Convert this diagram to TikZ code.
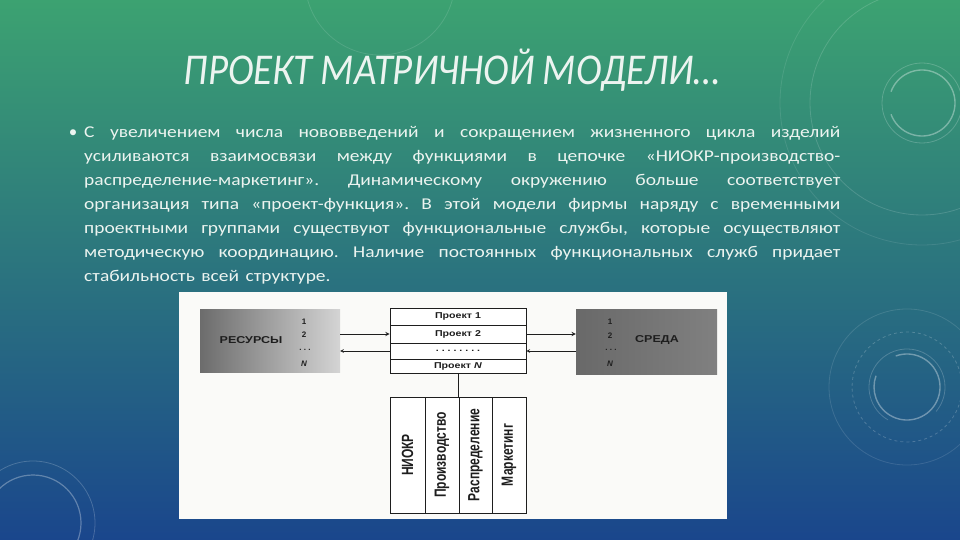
\documentclass[tikz,border=0pt]{standalone}
\usepackage{fontspec}
\setmainfont{Carlito}
\newfontfamily\diafont{Liberation Sans}
\usepackage{graphicx}
\usetikzlibrary{positioning}
\frenchspacing

\definecolor{bgtop}{RGB}{60,162,113}
\definecolor{bgmid}{RGB}{33,120,128}
\definecolor{bgbot}{RGB}{26,70,140}
\definecolor{slidetext}{RGB}{236,244,240}
\definecolor{ink}{RGB}{30,30,30}
\definecolor{paper}{RGB}{250,250,248}

% justified line and stretched scan text
\newcommand{\jline}[1]{\makebox[\linewidth][s]{\spaceskip=0pt \xspaceskip=0pt #1}}
\newcommand{\dwide}[1]{\scalebox{1.25}[1]{#1}}

\tikzset{
  deco/.style={draw=white, draw opacity=0.2, line width=0.8pt},
  prow/.style={draw=ink, line width=0.8pt, fill=white, minimum width=136pt, inner sep=0pt,
    font=\diafont\bfseries\fontsize{8.5}{9}\selectfont, text=ink},
  fcol/.style={draw=ink, line width=0.8pt, fill=white, rotate=90, minimum width=116pt, inner sep=0pt,
    font=\diafont\bfseries\fontsize{12}{12}\selectfont, text=ink},
  numlbl/.style={font=\diafont\bfseries\fontsize{8}{8}\selectfont, text=ink, inner sep=0pt},
  boxname/.style={font=\diafont\bfseries\fontsize{10}{10}\selectfont, text=ink, inner sep=0pt},
}

\begin{document}
\begin{tikzpicture}[x=1pt, y=-1pt, >=stealth]
  \useasboundingbox (0,0) rectangle (960,540);

  % 1. background of the slide
  \shade[top color=bgtop, middle color=bgmid, bottom color=bgbot] (0,0) rectangle (960,540);

  % rings
  \draw[deco, line width=1.4pt, draw opacity=0.35] (922,103) ++(200:33) arc (200:520:33);
  \draw[deco] (922,103) circle (40);
  \draw[deco, draw opacity=0.15] (922,103) circle (112);
  \draw[deco, draw opacity=0.1] (922,103) circle (142);
  \draw[deco, line width=1.4pt, draw opacity=0.35] (907,387) ++(250:33) arc (250:560:33);
  \draw[deco] (907,387) ++(120:38) arc (120:400:38);
  \draw[deco, dashed] (907,387) circle (55);
  \draw[deco, draw opacity=0.12] (907,387) circle (78);
  \draw[deco, line width=1.2pt, draw opacity=0.3] (33,523) circle (48);
  \draw[deco] (33,523) circle (62);
  \draw[deco, draw opacity=0.12] (380,-20) circle (75);

  % 2. title and text
  \node[anchor=base, inner sep=0pt, text=slidetext] (title) at (452,85)
    {\resizebox{536pt}{\height}{\fontsize{44}{44}\selectfont\itshape ПРОЕКТ МАТРИЧНОЙ МОДЕЛИ…}};

  \node[anchor=base, inner sep=0pt, text=slidetext, font=\fontsize{17}{24}\selectfont] (bullet) at (73,138) {•};
  \node[anchor=base west, inner sep=0pt, xscale=1.18, text width=640.7pt, align=left,
    text=slidetext, font=\fontsize{16.5}{24}\selectfont] (body) at (84,138) {%
    \jline{С увеличением числа нововведений и сокращением жизненного цикла изделий}\\
    \jline{усиливаются взаимосвязи между функциями в цепочке «НИОКР-производство-}\\
    \jline{распределение-маркетинг». Динамическому окружению больше соответствует}\\
    \jline{организация типа «проект-функция». В этой модели фирмы наряду с временными}\\
    \jline{проектными группами существуют функциональные службы, которые осуществляют}\\
    \jline{методическую координацию. Наличие постоянных функциональных служб придает}\\
    стабильность всей структуре.};

  % 3. the scanned scheme
  \fill[paper] (179,292) rectangle (727,519);

  \node[minimum width=140pt, minimum height=63pt, inner sep=0pt,
    left color={rgb,255:red,108;green,108;blue,108}, middle color={rgb,255:red,130;green,130;blue,130},
    right color={rgb,255:red,212;green,212;blue,212}] (res) at (270,340.5) {};
  \node[boxname] (resname) at (251,340) {\dwide{РЕСУРСЫ}};
  \node[numlbl] (r1) at (304,322) {1};
  \node[numlbl] (r2) at (304,335) {2};
  \node[numlbl] (r3) at (305,350) {. . .};
  \node[numlbl] (r4) at (304,364) {\textit{N}};

  \node[minimum width=141pt, minimum height=65pt, inner sep=0pt,
    left color={rgb,255:red,105;green,105;blue,105}, middle color={rgb,255:red,200;green,200;blue,200},
    right color={rgb,255:red,128;green,128;blue,128}] (env) at (646.5,341.5) {};
  \node[boxname] (envname) at (657,340) {\dwide{СРЕДА}};
  \node[numlbl] (e1) at (610,322) {1};
  \node[numlbl] (e2) at (610,336) {2};
  \node[numlbl] (e3) at (611,350) {. . .};
  \node[numlbl] (e4) at (610,364) {\textit{N}};

  \node[prow, minimum height=17pt] (p1) at (458,316.5) {\dwide{Проект 1}};
  \node[prow, minimum height=18pt] (p2) at (458,334) {\dwide{Проект 2}};
  \node[prow, minimum height=16pt] (pdots) at (458,351) {\dwide{. . . . . . . .}};
  \node[prow, minimum height=14pt] (pN) at (458,366) {\dwide{Проект \textit{N}}};

  \node[fcol, minimum height=35pt] (f1) at (407.5,455) {\scalebox{1}[1.35]{НИОКР}};
  \node[fcol, minimum height=34pt] (f2) at (442,455) {\scalebox{1}[1.35]{Производство}};
  \node[fcol, minimum height=33pt] (f3) at (475.5,455) {\scalebox{1}[1.35]{Распределение}};
  \node[fcol, minimum height=34pt] (f4) at (509,455) {\scalebox{1}[1.35]{Маркетинг}};

  % 4. links
  \draw[->, ink, line width=0.9pt] (res.east |- p2.west) -- (p2.west);
  \draw[->, ink, line width=0.6pt] (pdots.west) -- (res.east |- pdots.west);
  \draw[->, ink, line width=0.9pt] (p2.east) -- (env.west |- p2.east);
  \draw[->, ink, line width=0.6pt] (env.west |- pdots.east) -- (pdots.east);
  \draw[ink, line width=0.8pt] (pN.south) -- (pN.south |- f1.east);

\end{tikzpicture}
\end{document}
